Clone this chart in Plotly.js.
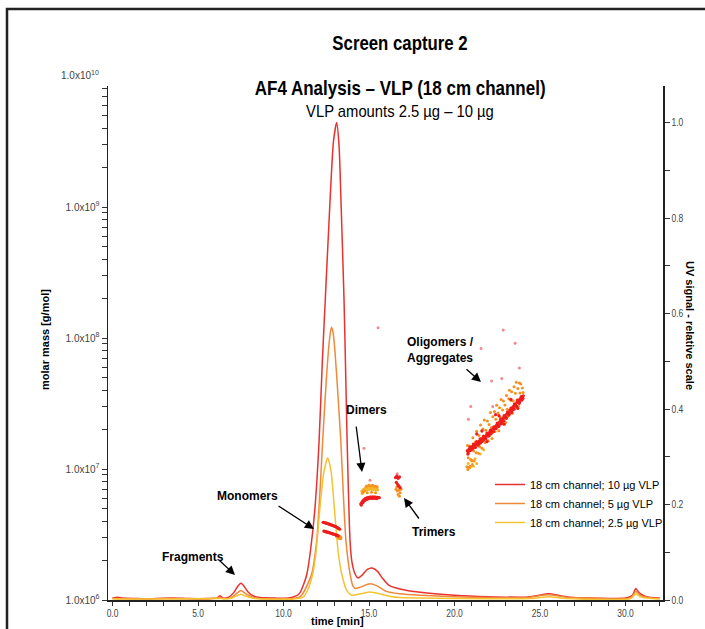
<!DOCTYPE html>
<html>
<head>
<meta charset="utf-8">
<script src="https://cdn.plot.ly/plotly-3.0.1.min.js"></script>
<style>
html,body{margin:0;padding:0;background:#fff;}
#chart{width:705px;height:629px;}
</style>
</head>
<body>
<div id="chart"></div>
<script>
// ---------------- DATA ----------------
// UV signal (relative scale, right axis)
const timeRed = [0.0,0.3,0.6,1.5,2.2,2.5,3.5,4.5,5.5,6.1,6.3,6.45,6.8,7.1,7.35,7.5,7.65,7.9,8.2,8.6,9.5,10.3,10.7,10.96,11.2,11.37,11.6,11.84,12.08,12.27,12.47,12.72,12.92,13.11,13.25,13.36,13.54,13.62,13.72,13.89,14.0,14.18,14.36,14.6,14.9,15.18,15.5,15.8,16.2,16.8,18.0,20.0,22.0,24.2,24.8,25.5,26.2,27.0,28.0,30.0,30.4,30.6,30.8,31.2,32.0];
const uvRed   = [0.004,0.006,0.004,0.003,0.002,0.003,0.004,0.003,0.003,0.004,0.009,0.004,0.006,0.016,0.030,0.035,0.031,0.018,0.009,0.005,0.004,0.004,0.008,0.015,0.035,0.055,0.11,0.193,0.333,0.50,0.65,0.836,0.96,1.0,0.95,0.836,0.627,0.50,0.333,0.124,0.08,0.055,0.046,0.052,0.064,0.067,0.06,0.045,0.030,0.023,0.016,0.010,0.007,0.006,0.009,0.013,0.009,0.005,0.004,0.004,0.010,0.024,0.015,0.007,0.004];

const timeOrange = [0.0,1.5,3.5,5.5,6.3,6.45,6.9,7.2,7.5,7.8,8.2,8.6,10.5,10.9,11.06,11.3,11.65,11.94,12.12,12.29,12.5,12.68,12.8,12.9,13.01,13.2,13.35,13.5,13.65,13.89,14.05,14.2,14.5,15.06,15.5,16.0,16.8,18.0,20.0,22.0,24.2,25.5,26.5,28.0,30.3,30.6,30.9,31.5,32.0];
const uvOrange   = [0.003,0.002,0.003,0.002,0.005,0.003,0.004,0.012,0.020,0.013,0.006,0.003,0.003,0.006,0.010,0.025,0.055,0.124,0.22,0.333,0.46,0.543,0.571,0.56,0.52,0.42,0.333,0.22,0.124,0.055,0.030,0.024,0.027,0.034,0.029,0.018,0.013,0.010,0.007,0.005,0.005,0.011,0.006,0.004,0.004,0.018,0.009,0.004,0.003];

const timeYellow = [0.0,3.5,6.3,6.9,7.2,7.5,7.8,8.3,10.6,11.14,11.4,11.71,11.9,12.13,12.35,12.58,12.78,12.97,13.2,13.4,13.7,13.99,14.5,15.06,15.6,16.2,16.8,18.0,20.0,24.5,25.5,26.5,30.3,30.6,30.9,31.5,32.0];
const uvYellow   = [0.002,0.002,0.003,0.003,0.008,0.012,0.008,0.003,0.002,0.006,0.020,0.055,0.10,0.193,0.265,0.298,0.27,0.193,0.10,0.055,0.020,0.010,0.013,0.017,0.013,0.008,0.005,0.004,0.003,0.003,0.007,0.003,0.003,0.013,0.006,0.003,0.002];

// Molar mass points (g/mol, left log axis)
const massRedT = [
  12.32,12.38,12.44,12.50,12.56,12.62,12.68,12.74,12.80,12.86,12.92,12.98,13.04,13.10,13.16,13.22,13.28,
  12.36,12.42,12.48,12.54,12.60,12.66,12.72,12.78,12.84,12.90,12.96,13.02,13.08,13.14,13.20,
  14.52,14.58,14.64,14.70,14.76,14.82,14.88,14.94,15.00,15.06,15.12,15.18,15.24,15.30,15.36,15.42,15.48,15.54,15.60,
  14.55,14.65,14.75,14.85,14.95,15.05,15.15,15.25,15.35,15.45,
  16.55,16.62,16.70,16.78,16.60,16.68,16.75,16.82,
  20.75,20.85,20.95,21.05,21.15,21.25,21.35,21.45,21.55,21.65,21.75,21.85,21.95,22.05,22.15,22.25,22.35,22.45,22.55,22.65,22.75,22.85,22.95,23.05,23.15,23.25,23.35,23.45,23.55,23.65,23.75,23.85,23.95,24.02,
  20.80,20.90,21.00,21.10,21.20,21.30,21.40,21.50,21.60,21.70,21.80,21.90,22.00,22.10,22.20,22.30,22.40,22.50,22.60,22.70,22.80,22.90,23.00,23.10,23.20,23.30,23.40,23.50,23.60,23.70,23.80,23.90,24.00,
  20.78,20.92,21.08,21.22,21.37,21.52,21.68,21.83,21.98,22.13,22.28,22.43,22.58,22.73,22.88,23.03,23.18,23.33,23.48,23.63,23.78,23.93,
  21.3,21.9,22.4,22.9,23.3,23.7,21.6,22.6];
const massRedM = [
  3.92e6,3.90e6,3.88e6,3.86e6,3.84e6,3.81e6,3.79e6,3.76e6,3.74e6,3.71e6,3.68e6,3.66e6,3.63e6,3.60e6,3.56e6,3.52e6,3.47e6,
  3.36e6,3.34e6,3.32e6,3.30e6,3.29e6,3.27e6,3.25e6,3.23e6,3.21e6,3.19e6,3.17e6,3.15e6,3.13e6,3.11e6,3.09e6,
  5.40e6,5.55e6,5.70e6,5.82e6,5.91e6,5.97e6,6.02e6,6.05e6,6.08e6,6.10e6,6.11e6,6.11e6,6.11e6,6.10e6,6.09e6,6.08e6,6.07e6,6.05e6,6.04e6,
  5.30e6,5.55e6,5.75e6,5.85e6,5.92e6,5.96e6,5.98e6,5.98e6,5.97e6,5.95e6,
  8.6e6,8.8e6,8.5e6,8.7e6,7.9e6,7.6e6,7.4e6,7.2e6,
  1.38e7,1.42e7,1.45e7,1.49e7,1.52e7,1.56e7,1.59e7,1.63e7,1.67e7,1.71e7,1.76e7,1.80e7,1.85e7,1.90e7,1.96e7,2.02e7,2.09e7,2.15e7,2.22e7,2.30e7,2.37e7,2.45e7,2.54e7,2.62e7,2.72e7,2.81e7,2.91e7,3.01e7,3.12e7,3.23e7,3.34e7,3.45e7,3.55e7,3.62e7,
  1.33e7,1.47e7,1.41e7,1.55e7,1.48e7,1.62e7,1.55e7,1.70e7,1.62e7,1.78e7,1.72e7,1.88e7,1.81e7,1.98e7,1.91e7,2.10e7,2.03e7,2.24e7,2.15e7,2.40e7,2.30e7,2.55e7,2.47e7,2.72e7,2.63e7,2.92e7,2.82e7,3.13e7,3.03e7,3.35e7,3.25e7,3.56e7,3.46e7,
  1.30e7,1.38e7,1.44e7,1.46e7,1.52e7,1.58e7,1.66e7,1.70e7,1.78e7,1.86e7,1.93e7,2.04e7,2.11e7,2.22e7,2.34e7,2.44e7,2.58e7,2.70e7,2.86e7,3.00e7,3.17e7,3.35e7,
  1.85e7,1.62e7,2.6e7,2.2e7,3.4e7,2.9e7,1.95e7,2.55e7];

const massOrangeT = [
  13.10,13.16,13.22,13.28,13.34,13.20,13.30,13.36,
  14.62,14.72,14.84,14.98,15.10,15.22,15.34,15.46,14.90,15.15,15.38,
  16.58,16.66,16.74,16.82,16.70,16.62,16.88,16.78,
  20.72,20.76,20.78,20.80,20.85,20.88,20.92,20.94,20.99,21.03,21.05,21.07,21.12,21.15,21.21,21.26,21.29,21.34,21.39,21.43,21.47,21.52,21.56,21.61,21.66,21.70,21.74,21.79,21.83,21.88,21.92,21.97,
  22.02,22.06,22.10,22.15,22.19,22.24,22.28,22.33,22.37,22.41,22.46,22.50,22.55,22.59,22.63,22.68,22.72,22.77,22.81,22.86,22.90,22.95,22.99,
  23.04,23.08,23.12,23.17,23.21,23.26,23.30,23.34,23.39,23.43,23.48,23.52,23.56,23.61,23.65,23.70,23.74,23.79,23.83,23.88,23.92,23.97,24.01];
const massOrangeM = [
  3.05e6,3.02e6,2.98e6,2.95e6,2.93e6,3.10e6,3.05e6,3.00e6,
  6.6e6,6.8e6,7.4e6,7.5e6,7.45e6,7.5e6,7.4e6,7.35e6,6.6e6,6.65e6,6.6e6,
  7.0e6,6.8e6,6.9e6,6.6e6,6.4e6,7.3e6,7.0e6,6.2e6,
  1.04e7,1.51e7,9.9e6,1.22e7,1.03e7,1.50e7,1.05e7,1.18e7,1.41e7,1.16e7,1.08e7,1.73e7,1.37e7,1.15e7,1.61e7,1.33e7,1.94e7,1.53e7,1.32e7,1.80e7,1.48e7,2.17e7,1.71e7,1.44e7,2.02e7,1.66e7,2.37e7,1.59e7,1.98e7,1.83e7,2.33e7,1.64e7,
  2.19e7,1.80e7,2.70e7,2.07e7,1.71e7,2.51e7,2.01e7,2.75e7,1.93e7,2.40e7,3.07e7,2.10e7,2.68e7,1.96e7,2.94e7,2.48e7,3.39e7,2.22e7,2.82e7,3.30e7,2.47e7,3.08e7,2.26e7,
  3.64e7,2.86e7,2.52e7,3.44e7,4.00e7,2.81e7,3.34e7,3.88e7,2.66e7,3.31e7,4.24e7,2.96e7,3.78e7,4.60e7,3.37e7,4.12e7,3.02e7,4.53e7,3.81e7,4.45e7,3.41e7,4.16e7,3.84e7];

const massYellowT = [
  14.58,14.64,14.70,14.76,14.82,14.88,14.94,15.00,15.06,15.12,15.18,15.24,15.30,15.36,15.42,15.48,
  14.60,14.70,14.80,14.90,15.00,15.10,15.20,15.30,15.40,15.50,
  20.80,20.90,21.00,21.10,21.20,21.30,21.50,21.70];
const massYellowM = [
  6.75e6,6.90e6,7.00e6,7.10e6,7.15e6,7.20e6,7.25e6,7.28e6,7.30e6,7.30e6,7.28e6,7.26e6,7.25e6,7.22e6,7.20e6,7.18e6,
  6.50e6,6.70e6,6.85e6,6.95e6,7.00e6,7.00e6,7.00e6,6.98e6,6.95e6,6.90e6,
  1.10e7,1.02e7,1.15e7,1.05e7,1.20e7,1.10e7,1.30e7,1.40e7];

const massStrayT = [22.85,23.54,21.55,23.79,22.17,22.76,20.95,20.81,22.23,15.53,14.71,15.06,16.65];
const massStrayM = [1.15e8,9.1e7,8.3e7,5.9e7,4.7e7,4.9e7,3.0e7,2.4e7,3.0e7,1.2e8,1.44e7,8.2e6,9.2e6];

// Tick values / labels
const xTickVals = [0,5,10,15,20,25,30];
const xTickText = ["0.0","5.0","10.0","15.0","20.0","25.0","30.0"];
const uvTickVals = [0,0.2,0.4,0.6,0.8,1.0];
const uvTickText = ["0.0","0.2","0.4","0.6","0.8","1.0"];
const massDecades = [1e6,1e7,1e8,1e9];
const massDecadeText = ["1.0x10<sup>6</sup>","1.0x10<sup>7</sup>","1.0x10<sup>8</sup>","1.0x10<sup>9</sup>"];
const seriesNames = ["18 cm channel; 10 µg VLP","18 cm channel; 5 µg VLP","18 cm channel; 2.5 µg VLP"];

// ---------------- LAYOUT HELPERS ----------------
const W = 705, H = 629;
const PL = 108, PR = 663, PT = 86, PB = 600;
const px = x => (x - PL) / (PR - PL);
const py = y => (PB - y) / (PB - PT);

const SANS = "'Liberation Sans', Arial, sans-serif";

const lineColors = ['#e8322f', '#f0883a', '#f5c232'];

const traces = [
  {x: timeRed, y: uvRed, name: seriesNames[0], type: 'scatter', mode: 'lines', yaxis: 'y',
   line: {color: lineColors[0], width: 1.5, shape: 'spline', smoothing: 0.6}},
  {x: timeOrange, y: uvOrange, name: seriesNames[1], type: 'scatter', mode: 'lines', yaxis: 'y',
   line: {color: lineColors[1], width: 1.5, shape: 'spline', smoothing: 0.6}},
  {x: timeYellow, y: uvYellow, name: seriesNames[2], type: 'scatter', mode: 'lines', yaxis: 'y',
   line: {color: lineColors[2], width: 1.5, shape: 'spline', smoothing: 0.6}},
  {x: massStrayT, y: massStrayM, type: 'scatter', mode: 'markers', yaxis: 'y2', showlegend: false,
   marker: {color: '#f08a8a', size: 3}},
  {x: massYellowT, y: massYellowM, type: 'scatter', mode: 'markers', yaxis: 'y2', showlegend: false,
   marker: {color: '#f2b62a', size: 3}},
  {x: massOrangeT, y: massOrangeM, type: 'scatter', mode: 'markers', yaxis: 'y2', showlegend: false,
   marker: {color: '#f7901e', size: 3}},
  {x: massRedT, y: massRedM, type: 'scatter', mode: 'markers', yaxis: 'y2', showlegend: false,
   marker: {color: '#ee1c1c', size: 3.3}}
];

const tickFont = {family: SANS, size: 10, color: '#444'};
const annFont = {family: SANS, size: 12, color: '#000', weight: 'bold'};

function arrow(hx, hy, tx, ty) {
  return {xref: 'paper', yref: 'paper', x: px(hx), y: py(hy), ax: tx - hx, ay: ty - hy,
          text: '', showarrow: true, arrowhead: 2, arrowsize: 1.4, arrowwidth: 1.3, arrowcolor: '#000', standoff: 0};
}
function label(cx, cy, txt, extra) {
  return Object.assign({xref: 'paper', yref: 'paper', x: px(cx), y: py(cy), text: txt, showarrow: false,
          xanchor: 'center', yanchor: 'middle', font: annFont}, extra || {});
}

const layout = {
  width: W, height: H,
  margin: {l: PL, r: W - PR, t: PT, b: H - PB, pad: 0},
  paper_bgcolor: '#fff', plot_bgcolor: 'rgba(0,0,0,0)',
  showlegend: true,
  title: {text: 'Screen capture 2', xref: 'container', yref: 'container', x: 400 / W, xanchor: 'center',
          y: 1 - 43 / H, yanchor: 'middle', font: {family: SANS, size: 20, color: '#000', weight: 'bold'}},
  legend: {x: px(490), y: py(470), xanchor: 'left', yanchor: 'top', bgcolor: 'rgba(0,0,0,0)',
           font: {family: SANS, size: 11, color: '#000'}, tracegroupgap: 0, itemwidth: 30},
  xaxis: {range: [-0.263, 32.19], tickmode: 'array', tickvals: xTickVals, ticktext: xTickText,
          ticks: 'outside', ticklen: 4, tickwidth: 1, tickcolor: '#333', tickfont: tickFont,
          minor: {tickmode: 'linear', tick0: 0, dtick: 1, ticks: 'outside', ticklen: 4, tickcolor: '#333', showgrid: false},
          showline: true, linecolor: '#222', linewidth: 1.5, showgrid: false, zeroline: false},
  yaxis: {side: 'right', range: [0, (PB - PT) / 477.5], tickmode: 'array', tickvals: uvTickVals, ticktext: uvTickText,
          ticks: 'outside', ticklen: 5, tickwidth: 1, tickcolor: '#333', tickfont: tickFont,
          minor: {tickmode: 'linear', tick0: 0, dtick: 0.1, ticks: 'outside', ticklen: 5, tickcolor: '#333', showgrid: false},
          showline: true, linecolor: '#222', linewidth: 1.5, showgrid: false, zeroline: false},
  yaxis2: {type: 'log', overlaying: 'y', side: 'left', range: [6, 6 + (PB - PT) / 131],
           tickmode: 'array', tickvals: massDecades, ticktext: massDecadeText,
           ticks: 'outside', ticklen: 5, tickwidth: 1, tickcolor: '#333', tickfont: tickFont,
           minor: {dtick: 'D1', ticks: 'outside', ticklen: 5, tickcolor: '#333', showgrid: false},
           showline: true, linecolor: '#222', linewidth: 1.5, showgrid: false, zeroline: false},
  shapes: [
    {type: 'rect', xref: 'paper', yref: 'paper', x0: px(7), x1: px(712), y0: py(640), y1: py(9),
     line: {color: '#222', width: 2.5}, fillcolor: 'rgba(0,0,0,0)', layer: 'below'}
  ],
  annotations: [
    label(400, 88, 'AF4 Analysis – VLP (18 cm channel)', {font: {family: SANS, size: 20, color: '#000', weight: 'bold'}}),
    label(400, 111, 'VLP amounts 2.5 µg – 10 µg', {font: {family: SANS, size: 17, color: '#000'}}),
    label(PL - 7, 75, '1.0x10<sup>10</sup>', {xanchor: 'right', font: tickFont}),
    label(45, 340, 'molar mass [g/mol]', {textangle: -90, font: {family: SANS, size: 11, color: '#000', weight: 'bold'}}),
    label(690, 325, 'UV signal - relative scale', {textangle: 90, font: {family: SANS, size: 11, color: '#000', weight: 'bold'}}),
    label(337, 621, 'time [min]', {font: {family: SANS, size: 11, color: '#000', weight: 'bold'}}),
    label(193, 557, 'Fragments'),
    label(247, 496, 'Monomers'),
    label(366, 410, 'Dimers'),
    label(434, 532, 'Trimers'),
    label(440, 350, 'Oligomers /<br>Aggregates'),
    arrow(235, 575, 218, 559),
    arrow(314, 529, 277, 505),
    arrow(362, 472, 356, 425),
    arrow(404, 498, 420, 520),
    arrow(481, 382, 465, 368)
  ]
};

// Narrow-font emulation: squeeze text horizontally about its anchor point
function condense(el, factor, anchor) {
  const bb = el.getBBox();
  if (!bb.width) return;
  let ax = bb.x + bb.width / 2;
  if (anchor === 'start') ax = bb.x;
  if (anchor === 'end') ax = bb.x + bb.width;
  const prev = el.getAttribute('transform') || '';
  el.setAttribute('transform', prev + ' translate(' + ax + ',0) scale(' + factor + ',1) translate(' + (-ax) + ',0)');
}

Plotly.newPlot('chart', traces, layout, {displayModeBar: false, staticPlot: true}).then(gd => {
  const t = gd.querySelector('.gtitle');
  if (t) condense(t, 0.84, 'middle');
  const anns = gd.querySelectorAll('.annotation');
  anns.forEach(a => {
    const idx = a.getAttribute('data-index');
    const txt = a.querySelector('.annotation-text');
    if (!txt) return;
    if (idx === '0') condense(txt, 0.85, 'middle');
    if (idx === '1') condense(txt, 0.87, 'middle');
  });
  gd.querySelectorAll('.xtick text').forEach(e => condense(e, 0.85, 'middle'));
  gd.querySelectorAll('.ytick text').forEach(e => condense(e, 0.85, 'start'));
});
</script>
</body>
</html>
